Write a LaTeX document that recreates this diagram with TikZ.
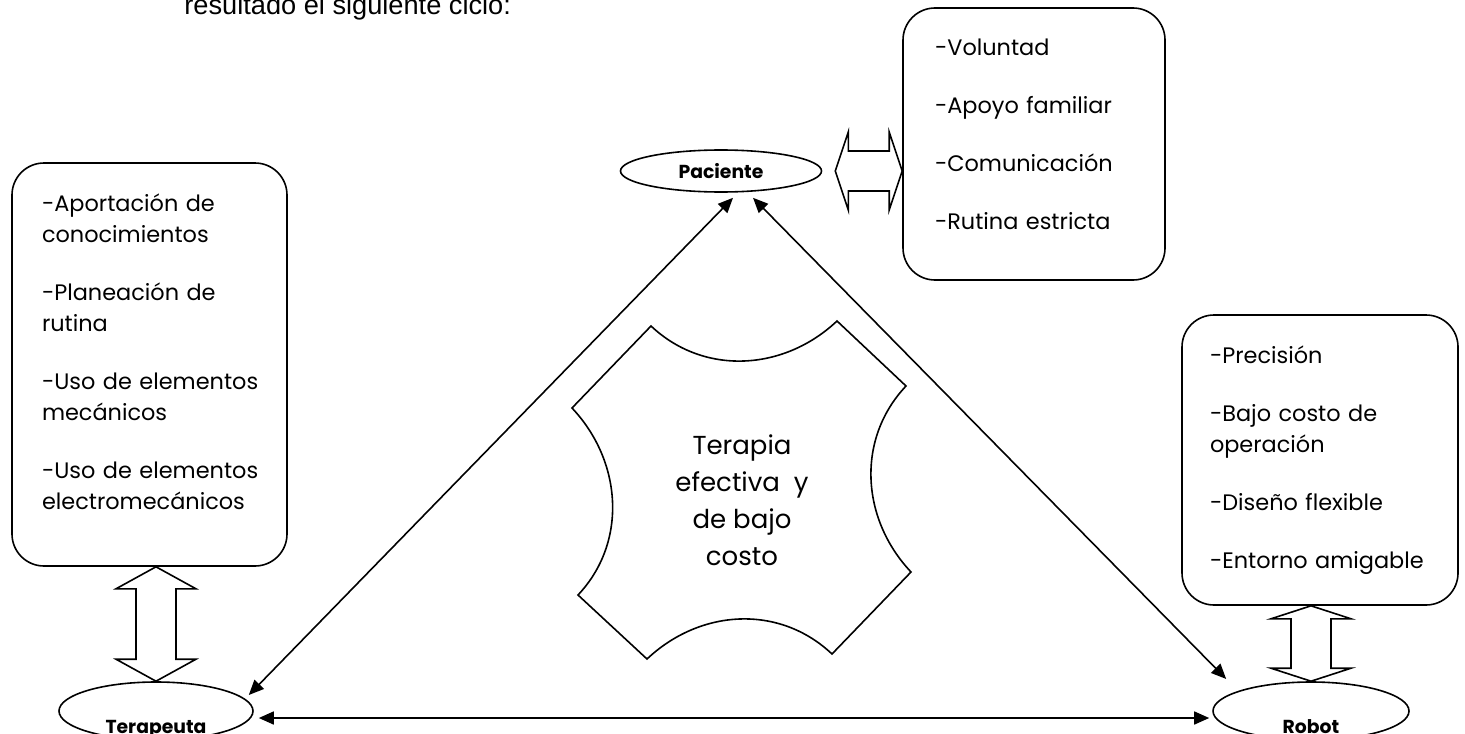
\documentclass[tikz,border=0pt]{standalone}
\usepackage{fontspec}
\setmainfont{Poppins}
\newfontfamily\headfont{Liberation Sans}
\usetikzlibrary{arrows.meta,calc,shapes.geometric}

% vertical block arrow: tips at #1 (top) and #2 (bottom), head length #3
\newcommand{\vblock}[3]{%
	\draw[blockarrow] let \p1=(#1), \p2=(#2) in
		(\x1,\y1) -- (\x1+20pt,\y1-#3) -- (\x1+10pt,\y1-#3) -- (\x1+10pt,\y2+#3)
		-- (\x1+20pt,\y2+#3) -- (\x1,\y2) -- (\x1-20pt,\y2+#3) -- (\x1-10pt,\y2+#3)
		-- (\x1-10pt,\y1-#3) -- (\x1-20pt,\y1-#3) -- cycle;}
% horizontal block arrow: tips at #1 (left) and #2 (right), head length #3
\newcommand{\hblock}[3]{%
	\draw[blockarrow] let \p1=(#1), \p2=(#2) in
		(\x1,\y1) -- (\x1+#3,\y1+19.5pt) -- (\x1+#3,\y1+10pt) -- (\x2-#3,\y1+10pt)
		-- (\x2-#3,\y1+19.5pt) -- (\x2,\y1) -- (\x2-#3,\y1-19.5pt) -- (\x2-#3,\y1-10pt)
		-- (\x1+#3,\y1-10pt) -- (\x1+#3,\y1-19.5pt) -- cycle;}
\newcommand{\listpad}[1]{\rule[-#1]{0pt}{#1}}
\newcommand{\listfont}{\fontsize{11.2}{15.5}\selectfont
	\hyphenpenalty=10000\relax\exhyphenpenalty=10000\relax}

\begin{document}
\begin{tikzpicture}[x=0.5pt,y=-0.5pt,>={Triangle[length=7.5pt,width=6.5pt]},
	listbox/.style={draw,line width=0.8pt,rounded corners=16pt,align=left,
		font=\listfont},
	actor/.style={draw,ellipse,line width=0.8pt,inner sep=0pt,
		font=\bfseries\fontsize{9.4}{11}\selectfont},
	blockarrow/.style={line width=0.8pt,line join=miter},
	link/.style={<->,line width=0.8pt}]

\useasboundingbox (0,0) rectangle (1465,733);

\node[anchor=base west,inner sep=0pt,font=\headfont\fontsize{13.6}{16}\selectfont]
	(titulo) at (184,15) {resultado el siguiente ciclo:};

%%%%%%%%%%%%%%%%%%%%%%%%%%%%%%%%%%%%%%

\node[actor,minimum width=100.5pt,minimum height=21pt] (paciente) at (721,171) {Paciente};
\node[actor,minimum width=97pt,minimum height=29pt] (terapeuta) at (156,711)
	{\raisebox{-11pt}[0pt][0pt]{Terapeuta}};
\node[actor,minimum width=98pt,minimum height=29pt] (robot) at (1311,711)
	{\raisebox{-11pt}[0pt][0pt]{Robot}};

%%%%%%%%%%%%%%%%%%%%%%%%%%%%%%%%%%%%%%

\node[listbox,minimum width=131pt,minimum height=136pt,text width=99pt] (pbox) at (1034,144)
	{-Voluntad\\[13.5pt]-Apoyo familiar\\[13.5pt]-Comunicación\\[13.5pt]-Rutina estricta\listpad{10pt}};

\node[listbox,minimum width=137.5pt,minimum height=201.5pt,text width=107.5pt] (tbox) at (149.5,364.5)
	{-Aportación de\\conocimientos\\[13.5pt]-Planeación de\\rutina\\[13.5pt]-Uso~de~elementos\\mecánicos\\[13.5pt]-Uso~de~elementos\\electromecánicos\listpad{12.5pt}};

\node[listbox,minimum width=138pt,minimum height=145pt,text width=110pt] (rbox) at (1320,460)
	{-Precisión\\[13.5pt]-Bajo costo de\\operación\\[13.5pt]-Diseño flexible\\[13.5pt]-Entorno amigable};

%%%%%%%%%%%%%%%%%%%%%%%%%%%%%%%%%%%%%%

\hblock{[xshift=6.5pt]paciente.east}{pbox.west |- paciente.east}{6.5pt}
\vblock{terapeuta.north |- tbox.south}{terapeuta.north}{11pt}
\vblock{robot.north |- rbox.south}{robot.north}{6.5pt}

%%%%%%%%%%%%%%%%%%%%%%%%%%%%%%%%%%%%%%

\draw[line width=0.8pt] (651,326) .. controls (704,376) and (784,371) .. (837,321)
	-- (906,386) .. controls (856,439) and (861,519) .. (911,572)
	-- (832,654) .. controls (779,604) and (700,609) .. (647,659)
	-- (578,595) .. controls (628,542) and (622,461) .. (572,408) -- cycle;
\node[align=center,font=\fontsize{13}{18.5}\selectfont] (meta) at (742,500)
	{Terapia\\efectiva\ \ y\\de bajo\\costo};

%%%%%%%%%%%%%%%%%%%%%%%%%%%%%%%%%%%%%%

\draw[link] ([shift={(12,5)}]paciente.south) -- ([shift={(-5,-16)}]terapeuta.east);
\draw[link] ([shift={(32,5)}]paciente.south) -- ([shift={(-15,-11)}]robot.north west);
\draw[link] ([shift={(5,7)}]terapeuta.east) -- ([shift={(-3,7)}]robot.west);

\end{tikzpicture}
\end{document}
